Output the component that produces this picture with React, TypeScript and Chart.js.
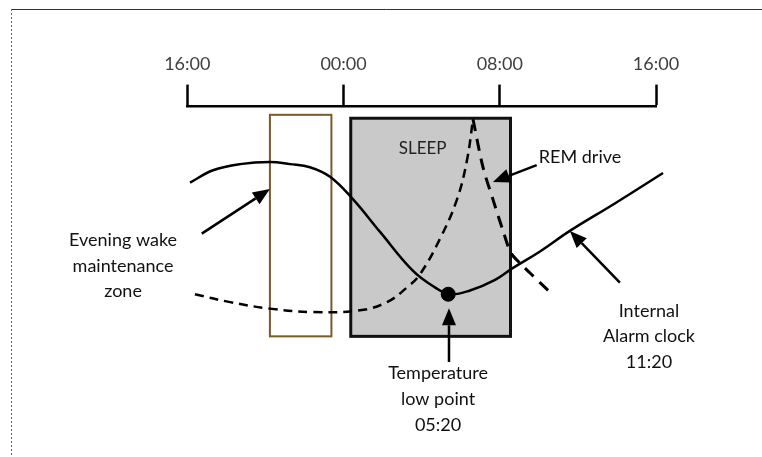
import React, { useEffect, useRef } from 'react';
import { Chart, registerables } from 'chart.js';

Chart.register(...registerables);

// x = hours after 16:00 (0..24), y = relative level (0..100)
const hourTicks = [0, 8, 16, 24];
const tickLabels = ['16:00', '00:00', '08:00', '16:00'];

const tempHours = [0.14, 1.32, 2.7, 4.23, 5.26, 6.28, 7.31, 8.49, 9.87, 11.56, 12.68, 13.45, 14.48, 15.76, 16.68, 18.06, 19.59, 21.89, 24.36];
const tempValues = [77.8, 81.4, 83.2, 83.8, 83.2, 82.3, 79.5, 72.9, 63.4, 52.0, 47.2, 45.2, 46.3, 49.4, 52.9, 57.7, 63.7, 71.7, 80.6];

const remRiseHours = [0.39, 2.19, 4.23, 6.44, 8.84, 10.23, 11.25, 11.91, 12.94, 13.81, 14.32, 14.63];
const remRiseValues = [45.2, 42.9, 41.0, 40.0, 40.5, 42.9, 47.2, 51.0, 61.4, 72.9, 84.3, 96.3];

const remFallHours = [14.63, 15.14, 15.65, 16.17, 16.58, 17.14, 17.55, 18.48];
const remFallValues = [96.3, 82.3, 72.9, 63.7, 57.2, 53.7, 51.4, 46.3];

const lowPointHour = [13.36];
const lowPointValue = [45.2];

// zones: [x0, x1, yTop, yBottom]
const sleepZone = [8.37, 16.55, 96.6, 32.9];
const wakeZone = [4.23, 7.38, 97.6, 32.9];

// arrows: [tailX, tailY, tipX, tipY]
const arrowEvening = [0.74, 62.9, 4.23, 75.9];
const arrowRem = [17.89, 82.9, 15.65, 78.0];
const arrowTemp = [13.4, 25.4, 13.4, 41.1];
const arrowAlarm = [22.15, 48.6, 19.59, 63.7];

// labels
const eveningLines = ['Evening wake', 'maintenance', 'zone'];
const eveningPos = [-3.29, 60.9, 7.45];
const tempLines = ['Temperature', 'low point', '05:20'];
const tempPos = [12.84, 22.0, 7.5];
const alarmLines = ['Internal', 'Alarm clock', '11:20'];
const alarmPos = [23.64, 40.3, 7.45];
const sleepLabel = 'SLEEP';
const sleepPos = [12.05, 87.7];
const remLabel = 'REM drive';
const remPos = [20.11, 85.1];

const FONT = 'Lato, "Open Sans", "DejaVu Sans", sans-serif';

const pts = (xs: number[], ys: number[]) => xs.map((x, i) => ({ x, y: ys[i] }));

const diagramPlugin = {
  id: 'diagram',
  beforeDraw(chart: any) {
    const ctx = chart.ctx;
    ctx.save();
    ctx.strokeStyle = '#333';
    ctx.lineWidth = 1;
    ctx.beginPath();
    ctx.moveTo(11, 9.5);
    ctx.lineTo(chart.width, 9.5);
    ctx.stroke();
    ctx.strokeStyle = '#666';
    ctx.setLineDash([2, 2]);
    ctx.beginPath();
    ctx.moveTo(11.5, 9);
    ctx.lineTo(11.5, chart.height);
    ctx.stroke();
    ctx.restore();
  },
  beforeDatasetsDraw(chart: any) {
    const ctx = chart.ctx;
    const xs = chart.scales.x;
    const ys = chart.scales.y;
    const rect = (z: number[], fill: string | null, stroke: string, w: number) => {
      const x0 = xs.getPixelForValue(z[0]);
      const x1 = xs.getPixelForValue(z[1]);
      const y0 = ys.getPixelForValue(z[2]);
      const y1 = ys.getPixelForValue(z[3]);
      ctx.save();
      if (fill) {
        ctx.fillStyle = fill;
        ctx.fillRect(x0, y0, x1 - x0, y1 - y0);
      }
      ctx.strokeStyle = stroke;
      ctx.lineWidth = w;
      ctx.strokeRect(x0, y0, x1 - x0, y1 - y0);
      ctx.restore();
    };
    rect(sleepZone, '#c9c9c9', '#111', 3);
    rect(wakeZone, null, '#7a5a2c', 2);
  },
  afterDatasetsDraw(chart: any) {
    const ctx = chart.ctx;
    const xs = chart.scales.x;
    const ys = chart.scales.y;
    const px = (v: number) => xs.getPixelForValue(v);
    const py = (v: number) => ys.getPixelForValue(v);

    const arrow = (a: number[], color = '#000') => {
      const x0 = px(a[0]), y0 = py(a[1]), x1 = px(a[2]), y1 = py(a[3]);
      const ang = Math.atan2(y1 - y0, x1 - x0);
      const L = 17, H = 7;
      const bx = x1 - L * Math.cos(ang), by = y1 - L * Math.sin(ang);
      ctx.save();
      ctx.strokeStyle = '#000';
      ctx.lineWidth = 2.5;
      ctx.beginPath();
      ctx.moveTo(x0, y0);
      ctx.lineTo(bx, by);
      ctx.stroke();
      ctx.fillStyle = color;
      ctx.beginPath();
      ctx.moveTo(x1, y1);
      ctx.lineTo(bx + H * Math.sin(ang), by - H * Math.cos(ang));
      ctx.lineTo(bx - H * Math.sin(ang), by + H * Math.cos(ang));
      ctx.closePath();
      ctx.fill();
      ctx.restore();
    };
    arrow(arrowEvening);
    arrow(arrowRem);
    arrow(arrowTemp);
    arrow(arrowAlarm);

    const block = (lines: string[], pos: number[]) => {
      ctx.save();
      ctx.fillStyle = '#111';
      ctx.font = `18px ${FONT}`;
      ctx.textAlign = 'center';
      ctx.textBaseline = 'middle';
      const x = px(pos[0]);
      const y = py(pos[1]);
      const step = Math.abs(py(0) - py(pos[2]));
      lines.forEach((l, i) => ctx.fillText(l, x, y + i * step));
      ctx.restore();
    };
    block(eveningLines, eveningPos);
    block(tempLines, tempPos);
    block(alarmLines, alarmPos);

    ctx.save();
    ctx.textAlign = 'center';
    ctx.textBaseline = 'middle';
    ctx.fillStyle = '#222';
    ctx.font = `17px ${FONT}`;
    ctx.fillText(sleepLabel, px(sleepPos[0]), py(sleepPos[1]));
    ctx.fillStyle = '#111';
    ctx.font = `18px ${FONT}`;
    ctx.fillText(remLabel, px(remPos[0]), py(remPos[1]));
    ctx.restore();
  },
};

export default function App() {
  const ref = useRef<HTMLCanvasElement | null>(null);
  useEffect(() => {
    if (!ref.current) return;
    const chart = new Chart(ref.current, {
      type: 'line',
      data: {
        datasets: [
          {
            data: pts(tempHours, tempValues),
            borderColor: '#000',
            borderWidth: 2.5,
            pointRadius: 0,
            tension: 0.4,
            clip: false,
          } as any,
          {
            data: pts(remRiseHours, remRiseValues),
            borderColor: '#000',
            borderWidth: 2.5,
            borderDash: [9, 6],
            pointRadius: 0,
            tension: 0.4,
            clip: false,
          },
          {
            data: pts(remFallHours, remFallValues),
            borderColor: '#000',
            borderWidth: 3,
            borderDash: [12, 8],
            pointRadius: 0,
            tension: 0.3,
            clip: false,
          },
          {
            type: 'scatter',
            data: pts(lowPointHour, lowPointValue),
            pointRadius: 7,
            pointBackgroundColor: '#000',
            pointBorderColor: '#000',
            showLine: false,
            clip: false,
          } as any,
        ],
      },
      options: {
        animation: false,
        responsive: true,
        maintainAspectRatio: false,
        events: [],
        layout: { padding: { left: 187.3, right: 106, top: 43, bottom: 2 } },
        plugins: { legend: { display: false }, tooltip: { enabled: false } },
        scales: {
          x: {
            type: 'linear',
            position: 'top',
            min: 0,
            max: 24,
            ticks: {
              stepSize: 8,
              padding: 10,
              color: '#404040',
              font: { family: FONT, size: 18 },
              callback: (v: any) => {
                const i = hourTicks.indexOf(Number(v));
                return i >= 0 ? tickLabels[i] : '';
              },
            },
            grid: {
              display: true,
              drawOnChartArea: false,
              drawTicks: true,
              tickLength: 22,
              tickWidth: 2.5,
              tickColor: '#000',
            },
            border: { display: true, color: '#000', width: 2.5 },
          },
          y: { type: 'linear', display: false, min: 0, max: 100 },
        },
      },
      plugins: [diagramPlugin],
    });
    return () => chart.destroy();
  }, []);
  return (
    <div style={{ position: 'fixed', left: 0, top: 0, width: 762, height: 457, background: '#fff' }}>
      <canvas ref={ref} />
    </div>
  );
}
